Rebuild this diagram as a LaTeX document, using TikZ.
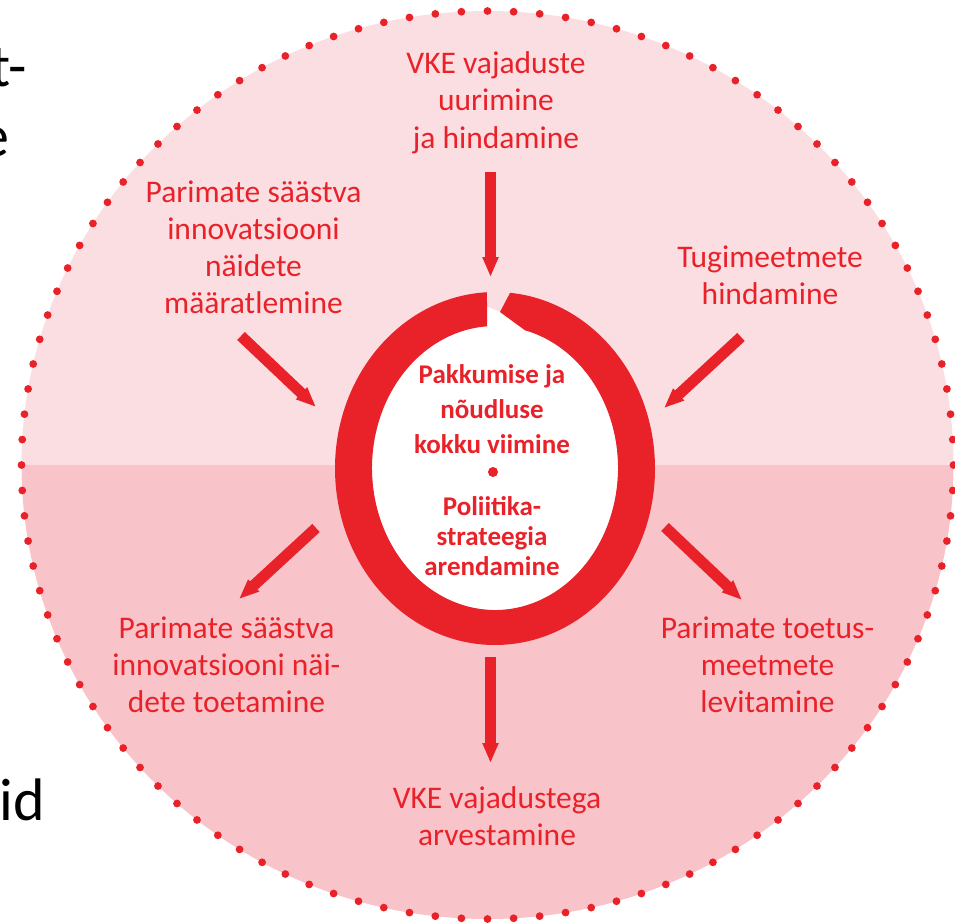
\documentclass[tikz,border=0pt]{standalone}
\usepackage{fontspec}
\setmainfont{Carlito}
\usetikzlibrary{arrows.meta,calc}
\definecolor{myred}{RGB}{233,33,41}
\definecolor{pinkA}{RGB}{251,222,225}
\definecolor{pinkB}{RGB}{248,196,201}
\begin{document}
\begin{tikzpicture}[x=1pt,y=1pt,
  lbl/.style={font=\fontsize{31.5}{37}\selectfont, text=myred, align=center, inner sep=0pt, anchor=base},
  ctr/.style={font=\bfseries\fontsize{27}{35}\selectfont, text=myred, align=center, inner sep=0pt, anchor=base},
  ctrb/.style={font=\bfseries\fontsize{27}{30}\selectfont, text=myred, align=center, inner sep=0pt, anchor=base},
  bgtxt/.style={font=\fontsize{60}{72}\selectfont, text=black, inner sep=0pt, anchor=base east},
  arr/.style={draw=myred, line width=11pt, -{Triangle[length=20pt,width=15pt]}},
  ]
\useasboundingbox (0,0) rectangle (955,-923);
\clip (0,0) rectangle (955,-923);
% background text fragments
\node[bgtxt] (b1) at (27,-87) {t-};
\node[bgtxt] (b2) at (10,-157) {e};
\node[bgtxt] (b3) at (45,-820) {id};
% big circle
\begin{scope}
\clip (487.5,-465) ellipse [x radius=466, y radius=454];
\fill[pinkA] (0,0) rectangle (955,-465);
\fill[pinkB] (0,-465) rectangle (955,-923);
\end{scope}
\foreach \i in {0,...,111} \fill[myred] (487.5,-465) ++(\i*45/14:466 and 454) circle (3.9);
% ring
\fill[white] (495,-468) ellipse [x radius=123, y radius=142];
\fill[white] (486,-306) -- (500,-312) -- (525,-330.2) -- (525,-345) -- (486,-345) -- cycle;
\fill[myred] ($(495,-468.5)+(92.87:160 and 176.5)$)
  arc[start angle=92.87, end angle=444.6, x radius=160, y radius=176.5]
  -- (500,-312) -- ($(495,-468)+(435.9:123 and 142)$)
  arc[start angle=435.9, end angle=93.73, x radius=123, y radius=142] -- cycle;
% texts (anchor = baseline of last line)
\node[lbl] (t1) at (496,-148) {VKE vajaduste\\uurimine\\ja hindamine};
\node[lbl] (t2) at (253.5,-313) {Parimate säästva\\innovatsiooni\\näidete\\määratlemine};
\node[lbl] (t3) at (770,-304) {Tugimeetmete\\hindamine};
\node[lbl] (t4) at (226.5,-712) {Parimate säästva\\innovatsiooni näi-\\dete toetamine};
\node[lbl] (t5) at (767.5,-712) {Parimate toetus-\\meetmete\\levitamine};
\node[lbl] (t6) at (497,-845) {VKE vajadustega\\arvestamine};
\node[ctr] (c1) at (492,-453) {Pakkumise ja\\nõudluse\\kokku viimine};
\node[circle, fill=myred, minimum size=10pt, inner sep=0pt] (dot) at (493,-472) {};
\node[ctrb] (c2) at (492,-575) {Poliitika-\\strateegia\\arendamine};
% arrows
\coordinate (a1s) at (490.5,-172); \coordinate (a1e) at (490.5,-277);
\coordinate (a2s) at (241,-336);   \coordinate (a2e) at (316,-407);
\coordinate (a3s) at (741,-337);   \coordinate (a3e) at (664,-408);
\coordinate (a4s) at (316,-528);   \coordinate (a4e) at (239,-599);
\coordinate (a5s) at (665,-527);   \coordinate (a5e) at (742,-600);
\coordinate (a6s) at (490.5,-657); \coordinate (a6e) at (490.5,-763);
\draw[arr] (a1s) -- (a1e);
\draw[arr] (a2s) -- (a2e);
\draw[arr] (a3s) -- (a3e);
\draw[arr] (a4s) -- (a4e);
\draw[arr] (a5s) -- (a5e);
\draw[arr] (a6s) -- (a6e);
\end{tikzpicture}
\end{document}
